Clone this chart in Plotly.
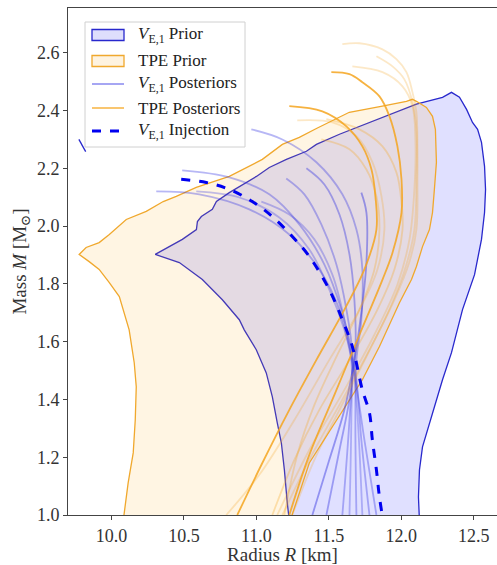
import plotly.graph_objects as go

# ---------------- data ----------------
# V_E,1 prior envelope (radius km, mass Msun)
ve_prior_R = [11.227, 11.220, 11.213, 11.193, 11.172, 11.144, 11.110, 11.068, 10.999, 10.916,
              10.882, 10.765, 10.627, 10.468, 10.302, 10.489, 10.586, 10.593, 10.620, 10.696,
              10.724, 10.813, 10.931, 11.000, 11.089, 11.207, 11.345, 11.414, 11.573, 11.641,
              11.869, 12.104, 12.284, 12.346, 12.401, 12.450, 12.491, 12.526, 12.553, 12.574,
              12.581, 12.574, 12.553, 12.526, 12.505, 12.422, 12.346, 12.284, 12.215, 12.146,
              12.125, 12.118, 12.125]
ve_prior_M = [0.98, 1.003, 1.042, 1.156, 1.250, 1.319, 1.409, 1.492, 1.572, 1.641,
              1.676, 1.745, 1.815, 1.874, 1.902, 1.954, 1.988, 2.016, 2.033, 2.058,
              2.085, 2.116, 2.151, 2.172, 2.203, 2.231, 2.259, 2.283, 2.318, 2.331,
              2.377, 2.422, 2.446, 2.463, 2.446, 2.404, 2.359, 2.335, 2.290, 2.207,
              2.127, 2.047, 1.954, 1.884, 1.832, 1.711, 1.562, 1.468, 1.354, 1.236,
              1.156, 1.062, 0.98]

# TPE prior envelope
tpe_prior_R = [10.081, 10.115, 10.150, 10.164, 10.171, 10.157, 10.122, 10.067, 10.054, 9.985,
               9.915, 9.846, 9.777, 9.825, 9.915, 9.985, 10.102, 10.240, 10.357, 10.447,
               10.585, 10.813, 11.041, 11.179, 11.296, 11.414, 11.641, 11.869, 12.035, 12.076,
               12.104, 12.173, 12.215, 12.235, 12.242, 12.228, 12.215, 12.194, 12.146, 12.104,
               12.070, 11.987, 11.849, 11.731, 11.552, 11.365, 11.248, 11.234]
tpe_prior_M = [0.98, 1.111, 1.215, 1.329, 1.444, 1.527, 1.641, 1.735, 1.756, 1.804,
               1.850, 1.877, 1.902, 1.926, 1.943, 1.971, 2.023, 2.051, 2.085, 2.103,
               2.134, 2.172, 2.231, 2.283, 2.307, 2.338, 2.394, 2.415, 2.432, 2.439,
               2.432, 2.411, 2.380, 2.335, 2.221, 2.127, 2.047, 1.988, 1.929, 1.860,
               1.815, 1.735, 1.583, 1.468, 1.329, 1.180, 1.003, 0.98]

# V_E,1 posterior M-R curves
ve_post_R = [
    [10.309, 10.606, 10.951, 11.227, 11.434, 11.573, 11.642, 11.683, 11.745, 11.828],
    [10.488, 10.813, 11.089, 11.296, 11.469, 11.586, 11.655, 11.690, 11.724, 11.780],
    [10.585, 10.882, 11.158, 11.365, 11.503, 11.607, 11.662, 11.690, 11.711, 11.731],
    [10.965, 11.179, 11.414, 11.593, 11.690, 11.731, 11.724, 11.690, 11.683, 11.690],
    [11.034, 11.227, 11.400, 11.524, 11.607, 11.655, 11.655, 11.642],
    [11.206, 11.331, 11.448, 11.552, 11.621, 11.662, 11.642, 11.593],
    [11.345, 11.469, 11.573, 11.642, 11.676, 11.683, 11.642, 11.573, 11.483],
    [11.724, 11.759, 11.759, 11.724, 11.676, 11.607, 11.503, 11.386],
]
ve_post_M = [
    [2.120, 2.110, 2.058, 1.971, 1.850, 1.711, 1.572, 1.468, 1.260, 1.000],
    [2.193, 2.169, 2.110, 2.006, 1.867, 1.711, 1.572, 1.468, 1.260, 1.000],
    [2.120, 2.099, 2.030, 1.919, 1.780, 1.641, 1.537, 1.399, 1.225, 1.000],
    [2.335, 2.300, 2.221, 2.110, 1.988, 1.850, 1.676, 1.537, 1.329, 1.000],
    [2.085, 2.040, 1.954, 1.832, 1.676, 1.537, 1.329, 1.000],
    [2.165, 2.110, 2.006, 1.867, 1.711, 1.555, 1.329, 1.000],
    [2.200, 2.144, 2.040, 1.902, 1.745, 1.572, 1.399, 1.225, 1.000],
    [2.116, 2.047, 1.874, 1.700, 1.537, 1.364, 1.191, 1.000],
]
ve_post_alpha = [0.35, 0.35, 0.3, 0.35, 0.3, 0.35, 0.4, 0.45]

# TPE posterior M-R curves
tpe_post_R = [
    [11.593, 11.711, 11.870, 11.966, 12.035, 12.077, 12.104, 12.111, 12.111, 12.104, 12.056, 11.952, 11.780, 11.573, 11.365, 11.179],
    [11.828, 11.939, 12.021, 12.077, 12.104, 12.104, 12.090, 12.035, 11.932, 11.766, 11.573, 11.400, 11.248],
    [11.517, 11.642, 11.731, 11.849, 11.918, 11.973, 12.001, 12.001, 11.939, 11.870, 11.711, 11.538, 11.365, 11.227],
    [11.662, 11.870, 12.008, 12.077, 12.097, 12.090, 12.056, 11.973, 11.814, 11.607, 11.365, 11.144],
    [11.227, 11.455, 11.621, 11.731, 11.794, 11.821, 11.828, 11.745, 11.607, 11.414, 11.227, 11.034, 10.868],
    [11.282, 11.524, 11.690, 11.801, 11.863, 11.883, 11.835, 11.711, 11.503, 11.262, 11.020, 10.792],
    [11.483, 11.711, 11.870, 11.966, 12.001, 12.008, 11.952, 11.835, 11.642, 11.434, 11.262, 11.110],
    [11.448, 11.642, 11.759, 11.828, 11.849, 11.814, 11.711, 11.559, 11.400, 11.282, 11.193],
]
tpe_post_M = [
    [2.630, 2.633, 2.612, 2.578, 2.533, 2.463, 2.394, 2.276, 2.162, 1.988, 1.877, 1.745, 1.572, 1.381, 1.191, 1.000],
    [2.588, 2.553, 2.508, 2.429, 2.335, 2.162, 1.988, 1.867, 1.728, 1.555, 1.364, 1.191, 1.000],
    [2.533, 2.526, 2.498, 2.449, 2.380, 2.276, 2.162, 2.047, 1.908, 1.815, 1.624, 1.416, 1.208, 1.000],
    [2.553, 2.533, 2.484, 2.415, 2.300, 2.127, 1.954, 1.798, 1.624, 1.433, 1.225, 1.000],
    [2.415, 2.397, 2.345, 2.276, 2.196, 2.103, 1.988, 1.850, 1.711, 1.537, 1.364, 1.173, 1.000],
    [2.366, 2.359, 2.311, 2.221, 2.103, 1.988, 1.850, 1.711, 1.537, 1.329, 1.139, 1.000],
    [2.370, 2.335, 2.276, 2.186, 2.082, 1.988, 1.850, 1.711, 1.537, 1.364, 1.191, 1.000],
    [2.300, 2.266, 2.196, 2.103, 1.988, 1.850, 1.711, 1.555, 1.381, 1.208, 1.000],
]
tpe_post_alpha = [0.25, 0.25, 0.85, 0.25, 0.85, 0.25, 0.3, 0.3]

# V_E,1 injection curve
inj_R = [10.481, 10.654, 10.813, 10.972, 11.110, 11.248, 11.365, 11.503, 11.593, 11.662,
         11.731, 11.780, 11.800, 11.828, 11.849, 11.876]
inj_M = [2.162, 2.151, 2.127, 2.085, 2.033, 1.964, 1.895, 1.780, 1.676, 1.583,
         1.433, 1.354, 1.260, 1.156, 1.062, 0.976]

# small stray V_E,1 segment at upper left
stray_R = [9.775, 9.822]
stray_M = [2.300, 2.258]

x_ticks = [10.0, 10.5, 11.0, 11.5, 12.0, 12.5]
y_ticks = [1.0, 1.2, 1.4, 1.6, 1.8, 2.0, 2.2, 2.4, 2.6]

legend_labels = ["<i>V</i><sub>E,1</sub> Prior", "TPE Prior",
                 "<i>V</i><sub>E,1</sub> Posteriors", "TPE Posteriors",
                 "<i>V</i><sub>E,1</sub> Injection"]

# ---------------- styles ----------------
BLUE_LINE = "rgb(40,40,205)"
BLUE_FILL = "rgba(0,0,255,0.12)"
ORANGE_LINE = "rgb(240,168,45)"
ORANGE_FILL = "rgba(255,178,40,0.13)"
FONT = "Liberation Serif, DejaVu Serif, serif"

fig = go.Figure()

fig.add_trace(go.Scatter(x=ve_prior_R, y=ve_prior_M, mode="lines", fill="toself",
                         fillcolor=BLUE_FILL, line=dict(color=BLUE_LINE, width=1.3),
                         showlegend=False, hoverinfo="skip"))
fig.add_trace(go.Scatter(x=tpe_prior_R, y=tpe_prior_M, mode="lines", fill="toself",
                         fillcolor=ORANGE_FILL, line=dict(color=ORANGE_LINE, width=1.3),
                         showlegend=False, hoverinfo="skip"))

for R, M, a in zip(ve_post_R, ve_post_M, ve_post_alpha):
    fig.add_trace(go.Scatter(x=R, y=M, mode="lines", line_shape="spline",
                             line=dict(color=f"rgba(50,50,225,{a})", width=1.8),
                             showlegend=False, hoverinfo="skip"))
for R, M, a in zip(tpe_post_R, tpe_post_M, tpe_post_alpha):
    fig.add_trace(go.Scatter(x=R, y=M, mode="lines", line_shape="spline",
                             line=dict(color=f"rgba(245,165,30,{a})", width=1.8),
                             showlegend=False, hoverinfo="skip"))

fig.add_trace(go.Scatter(x=stray_R, y=stray_M, mode="lines",
                         line=dict(color=BLUE_LINE, width=1.3), showlegend=False))

fig.add_trace(go.Scatter(x=inj_R, y=inj_M, mode="lines", line_shape="spline",
                         line=dict(color="rgb(0,0,240)", width=3, dash="dash"),
                         showlegend=False, hoverinfo="skip"))

# ---------------- hand-built legend (paper coordinates) ----------------
L, T, W, H = 429.0, 507.0, 68.0, 515.0   # plot width/height in px, left/bottom px
def px(xp):
    return (xp - W) / L
def py(yp):
    return (H - yp) / T

shapes = []
annotations = []
shapes.append(dict(type="rect", xref="paper", yref="paper",
                   x0=px(85), x1=px(245), y0=py(147), y1=py(22),
                   line=dict(color="#d0d0d0", width=1), fillcolor="rgba(255,255,255,0.85)",
                   layer="above"))
rows = [35, 61, 84, 108, 131]
sx0, sx1 = px(92), px(124)
shapes.append(dict(type="rect", xref="paper", yref="paper", x0=sx0, x1=sx1,
                   y0=py(rows[0] + 5.5), y1=py(rows[0] - 5.5),
                   line=dict(color=BLUE_LINE, width=1.3), fillcolor="rgb(222,222,252)", layer="above"))
shapes.append(dict(type="rect", xref="paper", yref="paper", x0=sx0, x1=sx1,
                   y0=py(rows[1] + 5.5), y1=py(rows[1] - 5.5),
                   line=dict(color=ORANGE_LINE, width=1.3), fillcolor="rgb(254,243,224)", layer="above"))
shapes.append(dict(type="line", xref="paper", yref="paper", x0=sx0, x1=sx1,
                   y0=py(rows[2]), y1=py(rows[2]),
                   line=dict(color="rgba(60,60,230,0.5)", width=1.8), layer="above"))
shapes.append(dict(type="line", xref="paper", yref="paper", x0=sx0, x1=sx1,
                   y0=py(rows[3]), y1=py(rows[3]),
                   line=dict(color="rgba(245,165,30,0.85)", width=1.5), layer="above"))
shapes.append(dict(type="line", xref="paper", yref="paper", x0=sx0, x1=sx1,
                   y0=py(rows[4]), y1=py(rows[4]),
                   line=dict(color="rgb(0,0,240)", width=3, dash="dash"), layer="above"))
for r, lab in zip(rows, legend_labels):
    annotations.append(dict(xref="paper", yref="paper", x=px(136), y=py(r),
                            xanchor="left", yanchor="middle", text=lab, showarrow=False,
                            font=dict(family=FONT, size=17, color="#222")))

axis_common = dict(showline=True, mirror=True, linecolor="#444", linewidth=1,
                   ticks="outside", ticklen=4, tickcolor="#444", showgrid=False,
                   zeroline=False, tickfont=dict(family=FONT, size=18, color="#333"))

fig.update_layout(
    width=497, height=565,
    margin=dict(l=68, r=0, t=8, b=50),
    paper_bgcolor="white", plot_bgcolor="white",
    font=dict(family=FONT, size=17, color="#333"),
    xaxis=dict(range=[9.70, 12.66], tickvals=x_ticks, ticktext=[f"{v:.1f}" for v in x_ticks],
               title=dict(text="Radius <i>R</i> [km]", font=dict(family=FONT, size=19), standoff=3),
               **axis_common),
    yaxis=dict(range=[1.0, 2.755], tickvals=y_ticks, ticktext=[f"{v:.1f}" for v in y_ticks],
               title=dict(text="Mass <i>M</i> [M<sub>⊙</sub>]", font=dict(family=FONT, size=19), standoff=5),
               **axis_common),
    shapes=shapes, annotations=annotations,
    showlegend=False,
)

fig.write_html("out.html")
